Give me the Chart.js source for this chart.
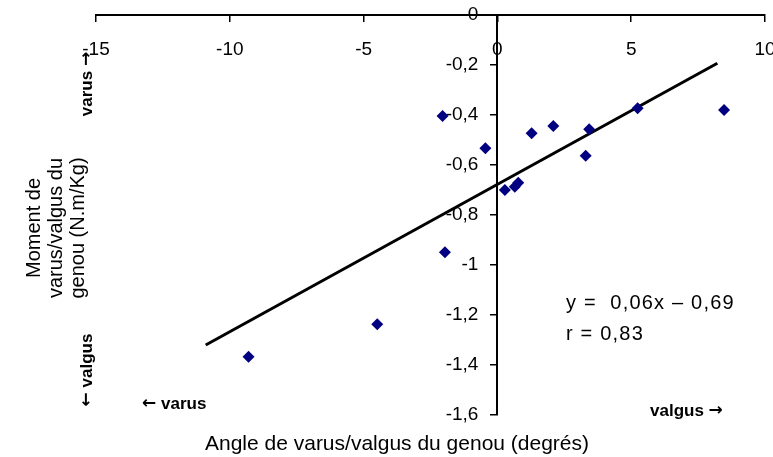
<!DOCTYPE html>
<html>
<head>
<meta charset="utf-8">
<script src="https://cdn.jsdelivr.net/npm/chart.js@4"></script>
<style>
html,body{margin:0;padding:0;background:#fff;}
#wrap{position:relative;width:773px;height:457px;}
</style>
</head>
<body>
<div id="wrap"><canvas id="c" width="773" height="457"></canvas></div>
<script>
// Data
const angleX  = [-9.3, -4.49, -1.96, -2.05, -0.45, 0.28, 0.65, 0.78, 1.28, 2.09, 3.3, 3.43, 5.24, 8.47];
const momentY = [-1.367, -1.237, -0.949, -0.404, -0.533, -0.70, -0.687, -0.671, -0.473, -0.444, -0.563, -0.457, -0.373, -0.38];
const trendX  = [-10.9, 8.22];
const trendY  = [-1.32, -0.193];
const xTicks  = [-15, -10, -5, 0, 5, 10];
const yTicks  = [0, -0.2, -0.4, -0.6, -0.8, -1, -1.2, -1.4, -1.6];
const xTitle  = 'Angle de varus/valgus du genou (degrés)';
const yTitle  = ['Moment de', 'varus/valgus du', 'genou (N.m/Kg)'];
const equation = ['y =  0,06x – 0,69', 'r = 0,83'];

const FONT = '"Liberation Sans", Arial, sans-serif';
const ARROWFONT = 'bold 17px "DejaVu Sans", sans-serif';
const BOLDFONT = 'bold 17px "Liberation Sans", Arial, sans-serif';

const pts = angleX.map((x, i) => ({x, y: momentY[i]}));
const trend = trendX.map((x, i) => ({x, y: trendY[i]}));

function piecesWidth(ctx, pieces) {
  let total = 0;
  pieces.forEach(p => { ctx.font = p.f; total += ctx.measureText(p.t).width; });
  return total;
}
function drawPieces(ctx, pieces, x, y) {
  let cx = x;
  pieces.forEach(p => { ctx.font = p.f; ctx.fillText(p.t, cx, y); cx += ctx.measureText(p.t).width; });
}

const annot = {
  id: 'annot',
  afterDraw(chart) {
    const ctx = chart.ctx;
    ctx.save();
    ctx.fillStyle = '#000';
    // x title
    ctx.font = '21px ' + FONT;
    ctx.textAlign = 'center';
    ctx.textBaseline = 'alphabetic';
    ctx.fillText(xTitle, 397, 450);
    // y title (rotated)
    ctx.font = '20px ' + FONT;
    const lx = [34, 56, 78];
    yTitle.forEach((t, i) => {
      ctx.save();
      ctx.translate(lx[i], 228);
      ctx.rotate(-Math.PI / 2);
      ctx.textBaseline = 'middle';
      ctx.fillText(t, 0, 0);
      ctx.restore();
    });
    ctx.textAlign = 'left';
    ctx.textBaseline = 'middle';
    // rotated direction labels
    const up = [{t: 'varus ', f: BOLDFONT}, {t: '\u2192', f: ARROWFONT}];
    const down = [{t: '\u2190', f: ARROWFONT}, {t: ' valgus', f: BOLDFONT}];
    ctx.save();
    ctx.translate(87, 84);
    ctx.rotate(-Math.PI / 2);
    drawPieces(ctx, up, -piecesWidth(ctx, up) / 2, 0);
    ctx.restore();
    ctx.save();
    ctx.translate(87, 370);
    ctx.rotate(-Math.PI / 2);
    drawPieces(ctx, down, -piecesWidth(ctx, down) / 2, 0);
    ctx.restore();
    // horizontal direction labels
    drawPieces(ctx, [{t: '\u2190', f: ARROWFONT}, {t: ' varus', f: BOLDFONT}], 142, 404);
    drawPieces(ctx, [{t: 'valgus ', f: BOLDFONT}, {t: '\u2192', f: ARROWFONT}], 650, 411);
    // equation
    ctx.font = '20px ' + FONT;
    ctx.letterSpacing = '1.2px';
    ctx.textBaseline = 'alphabetic';
    ctx.fillText(equation[0], 566, 309);
    ctx.fillText(equation[1], 566, 340);
    ctx.restore();
  }
};

new Chart(document.getElementById('c'), {
  type: 'scatter',
  data: {
    datasets: [
      {
        label: 'points',
        data: pts,
        backgroundColor: '#000080',
        borderColor: '#000080',
        pointStyle: 'rectRot',
        pointRadius: 6,
        borderWidth: 0
      },
      {
        type: 'line',
        label: 'trend',
        data: trend,
        borderColor: '#000',
        borderWidth: 3,
        pointRadius: 0,
        fill: false
      }
    ]
  },
  options: {
    responsive: false,
    animation: false,
    layout: { padding: { left: 96, right: 8, top: 15, bottom: 42 } },
    plugins: { legend: { display: false }, tooltip: { enabled: false } },
    scales: {
      x: {
        type: 'linear',
        min: -15, max: 10,
        position: { y: 0 },
        afterBuildTicks: s => { s.ticks = xTicks.map(v => ({value: v})); },
        afterFit: s => { s.paddingLeft = 0; s.paddingRight = 0; },
        ticks: {
          color: '#000',
          font: { family: FONT, size: 19 },
          padding: 17,
          maxRotation: 0,
          callback: v => String(v)
        },
        grid: { drawOnChartArea: false, drawTicks: true, tickLength: 6, color: '#000', lineWidth: 1.5 },
        border: { color: '#000', width: 2 }
      },
      y: {
        type: 'linear',
        min: -1.6, max: 0,
        position: { x: 0 },
        afterBuildTicks: s => { s.ticks = yTicks.map(v => ({value: v})); },
        afterFit: s => { s.paddingTop = 0; s.paddingBottom = 0; },
        ticks: {
          color: '#000',
          font: { family: FONT, size: 19 },
          callback: v => String(Math.round(v * 10) / 10).replace('.', ',') + '\u2002\u2002'
        },
        grid: { drawOnChartArea: false, drawTicks: true, tickLength: 6, color: '#000', lineWidth: 1.5 },
        border: { color: '#000', width: 2 }
      }
    }
  },
  plugins: [annot]
});
</script>
</body>
</html>
